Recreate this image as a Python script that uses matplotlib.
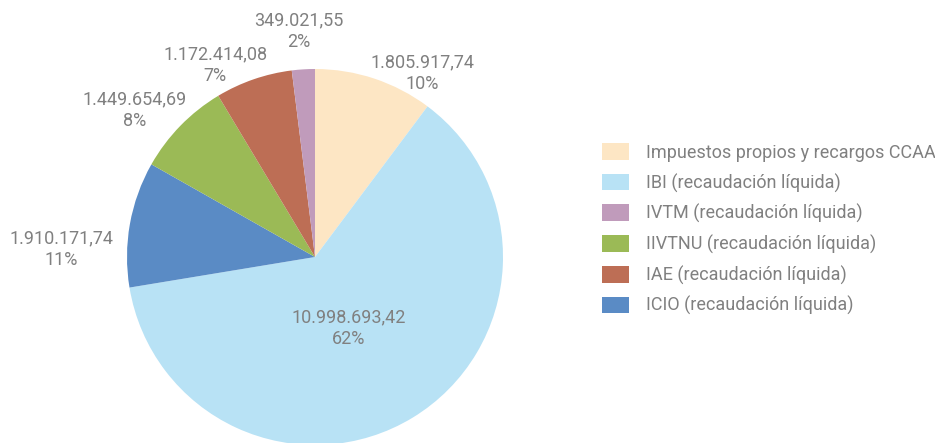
import matplotlib
matplotlib.use("Agg")
import matplotlib.pyplot as plt
from matplotlib.patches import Patch

# datos (en orden horario desde las 12)
categorias = ["Impuestos propios y recargos CCAA",
              "IBI (recaudación líquida)",
              "ICIO (recaudación líquida)",
              "IIVTNU (recaudación líquida)",
              "IAE (recaudación líquida)",
              "IVTM (recaudación líquida)"]
valores = [1805917.74, 10998693.42, 1910171.74, 1449654.69, 1172414.08, 349021.55]
colores = ["#FDE6C4", "#B8E2F5", "#5A8BC5", "#9BBA56", "#BD6E55", "#C09BBB"]

# orden de la leyenda
orden_leyenda = [0, 1, 5, 3, 4, 2]

# posiciones de etiquetas (radio del pastel = 1)
pos_etiquetas = [(0.57, 0.98), (0.18, -0.38), (-1.35, 0.04),
                 (-0.96, 0.78), (-0.53, 1.02), (-0.085, 1.20)]

gris = "#808080"
plt.rcParams['font.family'] = ['Roboto', 'DejaVu Sans']


def fmt_es(v):
    s = f"{v:,.2f}"
    return s.replace(",", "X").replace(".", ",").replace("X", ".")


fig = plt.figure(figsize=(9.35, 4.43), dpi=100)
# centro del pastel en (315, 257) px, radio 188 px
s = 1.5
w_px = 2 * 188 * s
ax = fig.add_axes([(315 - w_px / 2) / 935, (443 - 257 - w_px / 2) / 443,
                   w_px / 935, w_px / 443])

wedges, _ = ax.pie(valores, colors=colores, startangle=90, counterclock=False,
                   radius=1, wedgeprops=dict(linewidth=0))
ax.set_xlim(-s, s)
ax.set_ylim(-s, s)
ax.set_aspect('auto')
ax.axis('off')

total = sum(valores)
for v, (x, y) in zip(valores, pos_etiquetas):
    ax.text(x, y, f"{fmt_es(v)}\n{round(v / total * 100):.0f}%", ha='center', va='center',
            fontsize=13, color=gris, linespacing=1.25)

handles = [Patch(facecolor=colores[i], edgecolor='none') for i in orden_leyenda]
labels = [categorias[i] for i in orden_leyenda]
fig.legend(handles, labels, loc='upper left', bbox_to_anchor=(586 / 935, 1 - 127 / 443),
           frameon=False, handlelength=1.5, handleheight=1.05,
           labelspacing=0.64, handletextpad=0.95, labelcolor=gris,
           prop=dict(family=['Roboto', 'DejaVu Sans'], size=13))

fig.savefig("out.png", dpi=100)
